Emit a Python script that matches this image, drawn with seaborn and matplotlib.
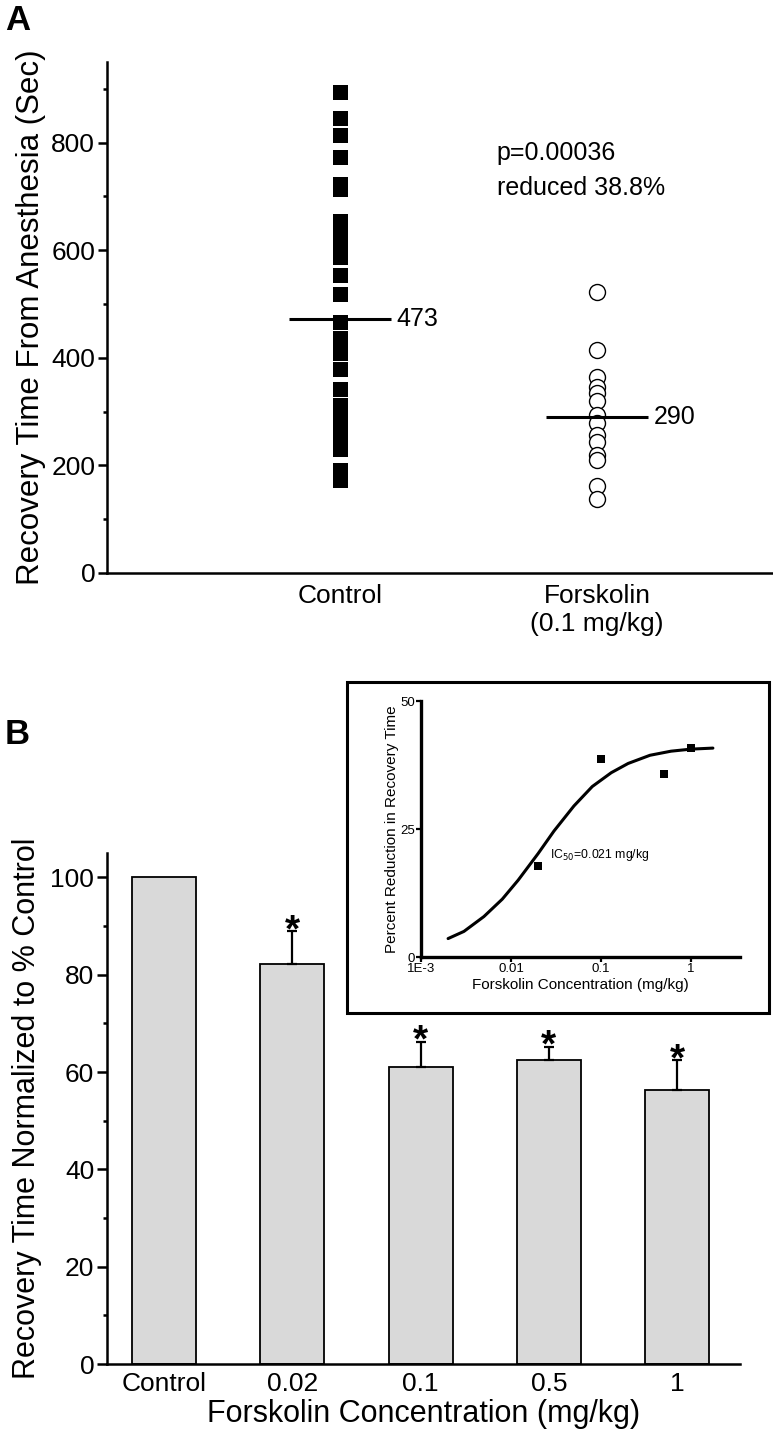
import matplotlib
matplotlib.use("Agg")
import matplotlib.pyplot as plt
from matplotlib.patches import Rectangle
from matplotlib.ticker import FixedLocator, LogLocator, NullFormatter
import numpy as np
import seaborn as sns

# --- panel A: recovery time per animal
groups = ["Control", "Forskolin\n(0.1 mg/kg)"]
control_times = [894, 845, 815, 773, 724, 714, 655, 632, 616, 587, 554, 519,
                 466, 437, 409, 380, 342, 313, 285, 257, 231, 192, 172]
forskolin_times = [522, 415, 364, 346, 334, 319, 294, 278, 257, 244, 219, 211,
                   161, 137]
group_means = [473, 290]
stats_text = "p=0.00036\nreduced 38.8%"

# --- panel B: normalized recovery time by dose
doses = ["Control", "0.02", "0.1", "0.5", "1"]
norm_time = [100, 82.1, 61.1, 62.5, 56.2]
norm_err = [0, 6.8, 5.1, 2.7, 6.2]
significant = [False, True, True, True, True]

# --- inset: dose response (points + fitted curve)
dose_mgkg = [0.02, 0.1, 0.5, 1]
pct_reduction = [17.8, 38.7, 35.8, 40.9]
fit_dose = [0.002, 0.003, 0.005, 0.008, 0.012, 0.02, 0.03, 0.05, 0.08, 0.13,
            0.2, 0.35, 0.6, 1.0, 1.75]
fit_pct = [3.6, 5.0, 7.9, 11.3, 15.0, 20.2, 24.6, 29.5, 33.3, 36.0, 37.8,
           39.4, 40.2, 40.6, 40.8]

sns.set_theme(style="ticks")
plt.rcParams["font.family"] = ["Liberation Sans", "DejaVu Sans"]
plt.rcParams.update({
    "axes.linewidth": 1.8,
    "axes.edgecolor": "black",
    "axes.labelcolor": "black",
    "text.color": "black",
    "xtick.color": "black",
    "ytick.color": "black",
})

W, H = 773, 1436
fig = plt.figure(figsize=(W / 100, H / 100), dpi=100)


def box(x0, y0, x1, y1):
    """pixel box (top-left origin) -> figure fraction rect"""
    return [x0 / W, 1 - y1 / H, (x1 - x0) / W, (y1 - y0) / H]


# ================= panel A
axa = fig.add_axes(box(107, 62, 773, 573))
sns.stripplot(x=[groups[0]] * len(control_times), y=control_times, order=groups,
              jitter=False, marker="s", color="black", size=10.8, ax=axa)
sns.stripplot(x=[groups[1]] * len(forskolin_times), y=forskolin_times, order=groups,
              jitter=False, marker="o", color="white", edgecolor="black",
              linewidth=1.0, size=11.5, ax=axa)
for i, m in enumerate(group_means):
    axa.hlines(m, i - 0.2, i + 0.2, color="black", lw=2.2, zorder=5)
    axa.text(i + 0.22, m, str(m), va="center", ha="left", fontsize=18)
axa.text(0.61, 748, stats_text, va="center", ha="left", fontsize=18,
         linespacing=1.55)

axa.set_xlim(-0.907, 1.685)
axa.set_ylim(0, 950)
axa.yaxis.set_major_locator(FixedLocator([0, 200, 400, 600, 800]))
axa.yaxis.set_minor_locator(FixedLocator([100, 300, 500, 700, 900]))
axa.tick_params(axis="y", which="major", length=6.5, width=1.8, labelsize=19, pad=2)
axa.tick_params(axis="y", which="minor", length=3, width=1.8)
axa.tick_params(axis="x", length=0, labelsize=19, pad=8)
axa.set_ylabel("Recovery Time From Anesthesia (Sec)", fontsize=22.5, labelpad=4)
axa.set_xlabel("")
sns.despine(ax=axa)

# ================= panel B
axb = fig.add_axes(box(106.7, 853, 740, 1364))
sns.barplot(x=doses, y=norm_time, order=doses, color="#d9d9d9", saturation=1,
            edgecolor="black", linewidth=1.3, width=0.5, ax=axb)
pos = np.arange(len(doses))
sig = np.array(significant)
err = np.array(norm_err)
vals = np.array(norm_time)
axb.errorbar(pos[sig], vals[sig], yerr=[np.zeros(sig.sum()), err[sig]],
             fmt="none", ecolor="black", elinewidth=1.6, capsize=3.6,
             capthick=1.6, zorder=3)
for p, v, e in zip(pos[sig], vals[sig], err[sig]):
    axb.annotate("*", (p, v + e), xytext=(0, -7), textcoords="offset points",
                 ha="center", va="baseline", fontsize=28, fontweight="bold")

axb.set_xlim(-0.447, 4.49)
axb.set_ylim(0, 105)
axb.yaxis.set_major_locator(FixedLocator([0, 20, 40, 60, 80, 100]))
axb.yaxis.set_minor_locator(FixedLocator([10, 30, 50, 70, 90]))
axb.tick_params(axis="y", which="major", length=7, width=1.8, labelsize=19, pad=2)
axb.tick_params(axis="y", which="minor", length=3, width=1.8)
axb.tick_params(axis="x", length=0, labelsize=19, pad=6)
axb.set_ylabel("Recovery Time Normalized to % Control", fontsize=22, labelpad=6)
axb.set_xlabel("Forskolin Concentration (mg/kg)", fontsize=22, labelpad=2)
sns.despine(ax=axb)

# ================= inset
frame = Rectangle((347 / W, 1 - 1013 / H), 422 / W, 331 / H, transform=fig.transFigure,
                  facecolor="white", edgecolor="black", linewidth=2.2, zorder=1)
fig.patches.append(frame)

axi = fig.add_axes(box(421, 701, 740, 957), zorder=2)
axi.set_facecolor("white")
sns.lineplot(x=fit_dose, y=fit_pct, color="black", lw=2.2, ax=axi)
sns.scatterplot(x=dose_mgkg, y=pct_reduction, marker="s", color="black", s=32,
                linewidth=0, ax=axi, zorder=4)
axi.set_xscale("log")
axi.set_xlim(1e-3, 3.5)
axi.set_ylim(0, 50)
axi.xaxis.set_major_locator(FixedLocator([1e-3, 1e-2, 1e-1, 1]))
axi.set_xticklabels(["1E-3", "0.01", "0.1", "1"])
axi.xaxis.set_minor_locator(LogLocator(base=10, subs=np.arange(2, 10)))
axi.xaxis.set_minor_formatter(NullFormatter())
axi.yaxis.set_major_locator(FixedLocator([0, 25, 50]))
axi.yaxis.set_minor_locator(FixedLocator([12.5, 37.5]))
for s in ("left", "bottom"):
    axi.spines[s].set_linewidth(2.4)
sns.despine(ax=axi)
axi.tick_params(which="major", length=3.5, width=1.6, labelsize=9.5, pad=1)
axi.tick_params(which="minor", length=2, width=1.6, direction="inout")
axi.set_ylabel("Percent Reduction in Recovery Time", fontsize=11, labelpad=1)
axi.set_xlabel("Forskolin Concentration (mg/kg)", fontsize=11, labelpad=2)
axi.text(0.027, 20.0, r"IC$_{50}$=0.021 mg/kg", fontsize=8.8, va="center", ha="left")

fig.text(5 / W, 1 - 4 / H, "A", fontsize=25, fontweight="bold", va="top", ha="left")
fig.text(5 / W, 1 - 718 / H, "B", fontsize=25, fontweight="bold", va="top", ha="left")

fig.savefig("out.png", dpi=100)
